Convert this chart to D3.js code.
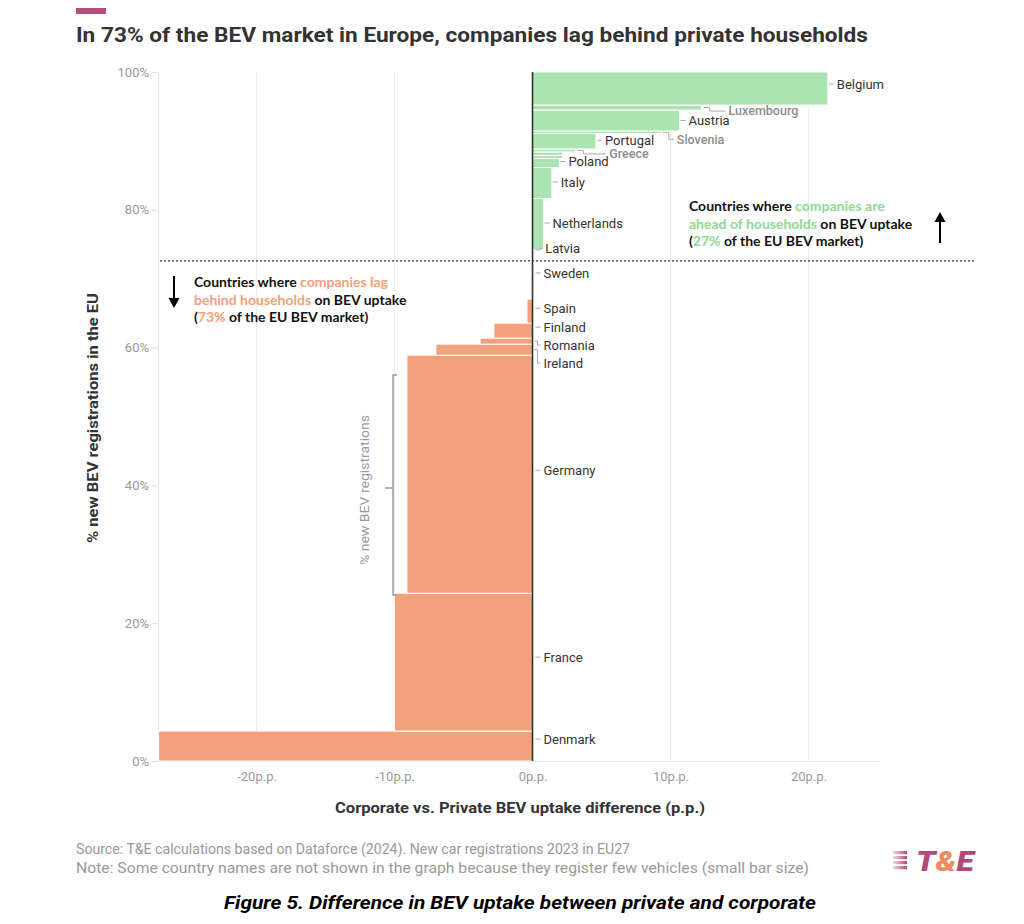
<!DOCTYPE html>
<html><head><meta charset="utf-8">
<script src="https://cdn.jsdelivr.net/npm/d3@7"></script>
<style>body{margin:0;background:#fff} svg{display:block}</style>
</head><body><svg id="chart" width="1024" height="924"></svg>
<script>
// ---------- data (stacked bottom → top) ----------
const countries = ["Denmark","France","Germany","Ireland","Romania","Finland","Spain","Sweden",
  "Malta","Cyprus","Estonia","Bulgaria","Croatia","Slovakia","Lithuania","Latvia",
  "Netherlands","Italy","Poland","Czechia","Hungary","Greece","Portugal","Slovenia","Austria","Luxembourg","Belgium"];
// share of EU new BEV registrations (%)
const bevShare = [4.35,20.0,34.55,1.6,0.87,2.18,3.48,5.57,
  0.09,0.1,0.2,0.25,0.3,0.3,0.3,0.1,
  7.4,4.5,1.31,0.45,0.5,0.43,2.24,0.37,3.04,0.72,4.8];
// corporate minus private BEV uptake (p.p.)
const uptakeDiff = [-27.1,-10.0,-9.1,-7.0,-3.8,-2.8,-0.4,-0.05,
  0.05,0.05,0.05,0.05,0.05,0.05,0.05,0.05,
  0.8,1.4,1.95,2.2,2.2,3.1,4.6,9.3,10.65,12.25,21.4];
const labelled = ["Denmark","France","Germany","Ireland","Romania","Finland","Spain","Sweden","Latvia",
  "Netherlands","Italy","Poland","Greece","Portugal","Slovenia","Austria","Luxembourg","Belgium"];
const mutedLabels = ["Greece","Slovenia","Luxembourg"];
const xTicks = [-20,-10,0,10,20];
const yTicks = [0,20,40,60,80,100];

// ---------- layout (label nudges in px: [dx, dy]) ----------
const labelNudge = {Belgium:[0,-4.5],Luxembourg:[18,3.5],Austria:[0,0],Slovenia:[7,7],Portugal:[0,-1],
  Greece:[25,3.5],Poland:[0,-1.5],Italy:[0,-1],Netherlands:[0,-1],Latvia:[3,-1],Sweden:[0,-7],
  Spain:[0,-3],Finland:[0,-3.5],Romania:[0,4],Ireland:[0,13.5],Germany:[0,-4],France:[0,-5],Denmark:[0,-7]};

const svg = d3.select("#chart");
const FONT = "Roboto, 'Noto Sans', sans-serif";
const orange = "#f1a17b", green = "#abe4b1";
const orangeText = "#f5a07b", greenText = "#8fd993";

const x = d3.scaleLinear().domain([-27.14, 25.18]).range([158, 880]);
const y = d3.scaleLinear().domain([0, 100]).range([761, 72]);

// stacked data
const cum = d3.cumsum(bevShare);
const rows = countries.map((c,i)=>({name:c, share:bevShare[i], diff:uptakeDiff[i], y0:cum[i]-bevShare[i], y1:cum[i]}));
const lagShare = d3.sum(rows.filter(r=>r.diff<0), r=>r.share);

// title
svg.append("rect").attr("x",76).attr("y",8).attr("width",30).attr("height",6).attr("fill","#b94a7c");
svg.append("text").attr("x",76).attr("y",42).attr("font-family",FONT).attr("font-weight",700)
  .attr("font-size",21).attr("fill","#333").attr("textLength",792).attr("lengthAdjust","spacingAndGlyphs")
  .text("In 73% of the BEV market in Europe, companies lag behind private households");

// grid
svg.append("g").selectAll("line").data(xTicks.filter(d=>d!==0)).join("line")
  .attr("x1",d=>x(d)).attr("x2",d=>x(d)).attr("y1",y(100)).attr("y2",y(0))
  .attr("stroke","#ececec").attr("stroke-width",1);

// axes
const yAxis = svg.append("g").attr("transform",`translate(${x.range()[0]},0)`)
  .call(d3.axisLeft(y).tickValues(yTicks).tickFormat(d=>d+"%").tickSize(6).tickSizeOuter(0).tickPadding(3));
yAxis.select(".domain").attr("stroke","#e6e6e6");
yAxis.selectAll(".tick line").attr("stroke","#e0e0e0");
yAxis.selectAll("text").attr("font-family",FONT).attr("font-size",13).attr("fill","#9a9a9a");

const xAxis = svg.append("g").attr("transform",`translate(0,${y(0)})`)
  .call(d3.axisBottom(x).tickValues(xTicks).tickFormat(d=>d+"p.p.").tickSize(0).tickSizeOuter(0).tickPadding(11));
xAxis.select(".domain").attr("stroke","#e6e6e6");
xAxis.selectAll("text").attr("font-family",FONT).attr("font-size",13).attr("fill","#9a9a9a");

// bars
svg.append("g").selectAll("rect").data(rows).join("rect")
  .attr("x",d=>Math.min(x(0),x(d.diff))).attr("width",d=>Math.abs(x(d.diff)-x(0)))
  .attr("y",d=>y(d.y1)).attr("height",d=>y(d.y0)-y(d.y1))
  .attr("fill",d=>d.diff<0?orange:green).attr("stroke","#fff").attr("stroke-width",1);

// zero line
svg.append("line").attr("x1",x(0)).attr("x2",x(0)).attr("y1",y(100)).attr("y2",y(0))
  .attr("stroke","#333").attr("stroke-width",1.6);

// threshold dotted line
svg.append("line").attr("x1",160).attr("x2",975).attr("y1",y(lagShare)).attr("y2",y(lagShare))
  .attr("stroke","#333").attr("stroke-width",1.2).attr("stroke-dasharray","2,2");

// labels + leaders
const lab = svg.append("g");
rows.filter(r=>labelled.includes(r.name)).forEach(r=>{
  const nd = labelNudge[r.name]||[0,0];
  const cy = (y(r.y0)+y(r.y1))/2;
  const sx = r.diff<0 ? x(0)+2 : x(r.diff)+2;
  const lx = (r.diff<0 ? x(0)+11 : x(r.diff)+9) + nd[0];
  const ly = cy + nd[1];
  const top = y(r.y1), bot = y(r.y0);
  let p;
  if (ly >= top-0.5 && ly <= bot+0.5) p = `M${lx-8},${ly}H${lx-3}`;
  else { const mid = Math.min(sx+6, lx-6); p = `M${sx},${cy}H${mid}V${ly}H${lx-3}`; }
  lab.append("path").attr("d",p).attr("fill","none").attr("stroke","#aaa").attr("stroke-width",1);
  const muted = mutedLabels.includes(r.name);
  lab.append("text").attr("x",lx).attr("y",ly).attr("dy","0.35em")
    .attr("font-family",FONT).attr("font-size",muted?12.5:13).attr("font-weight",muted?500:400)
    .attr("fill",muted?"#8c8c8c":"#333").text(r.name);
});

// annotations
const AF = "Lato, 'Open Sans', sans-serif";
function note(x0, y0, lines){
  const t = svg.append("text").attr("font-family",AF).attr("font-weight",700).attr("font-size",14);
  lines.forEach((ln,i)=>{
    ln.forEach((seg,j)=>{
      const ts = t.append("tspan").attr("fill",seg[1]).text(seg[0]);
      if(j===0) ts.attr("x",x0).attr("y",y0+i*17.5);
    });
  });
}
const pctUp = Math.round(100-lagShare), pctDown = Math.round(lagShare);
note(689, 211, [
  [["Countries where ","#111"],["companies are",greenText]],
  [["ahead of households",greenText],[" on BEV uptake","#111"]],
  [["(","#111"],[pctUp+"%",greenText],[" of the EU BEV market)","#111"]]
]);
note(194, 287, [
  [["Countries where ","#111"],["companies lag",orangeText]],
  [["behind households",orangeText],[" on BEV uptake","#111"]],
  [["(","#111"],[pctDown+"%",orangeText],[" of the EU BEV market)","#111"]]
]);
// arrows
svg.append("line").attr("x1",940).attr("x2",940).attr("y1",243).attr("y2",220).attr("stroke","#000").attr("stroke-width",2);
svg.append("path").attr("d","M934.5,222 L940,212 L945.5,222 Z").attr("fill","#000");
svg.append("line").attr("x1",174).attr("x2",174).attr("y1",276).attr("y2",300).attr("stroke","#000").attr("stroke-width",2);
svg.append("path").attr("d","M168.5,298 L174,308 L179.5,298 Z").attr("fill","#000");

// bracket
svg.append("path").attr("d","M397,375H393V595H397M393,488H385").attr("fill","none").attr("stroke","#999").attr("stroke-width",1.5);
svg.append("text").attr("transform","translate(369,490) rotate(-90)").attr("text-anchor","middle")
  .attr("font-family",FONT).attr("font-size",12).attr("fill","#999").attr("textLength",150).attr("lengthAdjust","spacingAndGlyphs")
  .text("% new BEV registrations");

// axis titles
svg.append("text").attr("transform","translate(98,418) rotate(-90)").attr("text-anchor","middle")
  .attr("font-family",FONT).attr("font-weight",700).attr("font-size",14).attr("fill","#333")
  .attr("textLength",250).attr("lengthAdjust","spacingAndGlyphs").text("% new BEV registrations in the EU");
svg.append("text").attr("x",520).attr("y",813).attr("text-anchor","middle")
  .attr("font-family",FONT).attr("font-weight",700).attr("font-size",14).attr("fill","#333")
  .attr("textLength",370).attr("lengthAdjust","spacingAndGlyphs").text("Corporate vs. Private BEV uptake difference (p.p.)");

// footer
svg.append("text").attr("x",76).attr("y",854).attr("font-family",FONT).attr("font-size",14).attr("fill","#999")
  .attr("textLength",554).attr("lengthAdjust","spacingAndGlyphs")
  .text("Source: T&E calculations based on Dataforce (2024). New car registrations 2023 in EU27");
svg.append("text").attr("x",76).attr("y",873).attr("font-family",FONT).attr("font-size",14).attr("fill","#999")
  .attr("textLength",733).attr("lengthAdjust","spacingAndGlyphs")
  .text("Note: Some country names are not shown in the graph because they register few vehicles (small bar size)");
svg.append("text").attr("x",520).attr("y",909).attr("text-anchor","middle").attr("font-family",FONT)
  .attr("font-weight",700).attr("font-style","italic").attr("font-size",18).attr("fill","#000")
  .attr("textLength",592).attr("lengthAdjust","spacingAndGlyphs")
  .text("Figure 5. Difference in BEV uptake between private and corporate");

// logo
const defs = svg.append("defs");
const g = defs.append("linearGradient").attr("id","lg").attr("x1","0").attr("x2","1");
g.append("stop").attr("offset","0").attr("stop-color","#b5487a").attr("stop-opacity",0.2);
g.append("stop").attr("offset","1").attr("stop-color","#b5487a").attr("stop-opacity",1);
[851,856,861,866].forEach(yy=>svg.append("rect").attr("x",893).attr("y",yy).attr("width",14).attr("height",3.2).attr("fill","url(#lg)"));
const lt = svg.append("text").attr("x",916).attr("y",871).attr("font-family",FONT).attr("font-weight",900)
  .attr("font-style","italic").attr("font-size",27).attr("textLength",58).attr("lengthAdjust","spacingAndGlyphs");
lt.append("tspan").attr("fill","#b5487a").text("T");
lt.append("tspan").attr("fill","#ef8a5c").text("&");
lt.append("tspan").attr("fill","#b5487a").text("E");
</script></body></html>
